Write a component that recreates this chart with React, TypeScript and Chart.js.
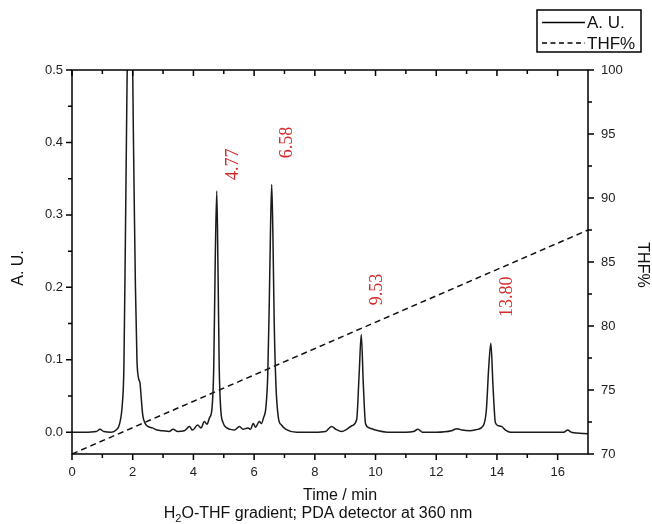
import React, { useEffect, useRef } from "react";
import { Chart, registerables } from "chart.js";

Chart.register(...registerables);

// ---- data ----
const time = [
  0.0, 0.4, 0.8, 0.92, 1.05, 1.3, 1.45, 1.57, 1.66, 1.71, 1.76, 1.81, 1.86, 1.92, 1.97, 2.0, 2.02, 2.05, 2.09, 2.14,
  2.19, 2.24, 2.28, 2.33, 2.4, 2.5, 2.65, 2.8, 3.0, 3.2, 3.33, 3.48, 3.7, 3.87, 3.97, 4.14, 4.25, 4.36, 4.45, 4.53,
  4.61, 4.67, 4.72, 4.77, 4.81, 4.85, 4.9, 4.98, 5.1, 5.22, 5.35, 5.52, 5.63, 5.8, 5.88, 5.97, 6.05, 6.17, 6.24, 6.31,
  6.39, 6.45, 6.5, 6.54, 6.58, 6.62, 6.66, 6.72, 6.8, 6.9, 7.05, 7.4, 8.0, 8.35, 8.55, 8.7, 8.88, 9.05, 9.22, 9.38,
  9.46, 9.53, 9.6, 9.67, 9.8, 10.0, 10.4, 11.0, 11.25, 11.4, 11.55, 12.0, 12.5, 12.68, 12.85, 13.1, 13.35, 13.55, 13.65, 13.73,
  13.8, 13.87, 13.95, 14.05, 14.15, 14.28, 14.45, 15.0, 15.6, 16.2, 16.33, 16.45, 17.0,
];
const absorbance = [
  0.0, 0.0, 0.001, 0.004, 0.001, 0.0, 0.003, 0.012, 0.04, 0.09, 0.27, 0.47, 0.62, 0.66, 0.6, 0.5, 0.42, 0.32, 0.2, 0.1,
  0.075, 0.068, 0.048, 0.024, 0.013, 0.008, 0.006, 0.003, 0.002, 0.001, 0.004, 0.001, 0.002, 0.008, 0.003, 0.01, 0.006, 0.015, 0.011, 0.02,
  0.032, 0.09, 0.24, 0.333, 0.225, 0.09, 0.032, 0.013, 0.006, 0.004, 0.003, 0.008, 0.004, 0.006, 0.004, 0.012, 0.007, 0.015, 0.012, 0.02,
  0.035, 0.08, 0.18, 0.28, 0.342, 0.27, 0.156, 0.064, 0.02, 0.01, 0.004, 0.0, 0.0, 0.001, 0.008, 0.004, 0.001, 0.004, 0.009, 0.018,
  0.08, 0.135, 0.064, 0.012, 0.006, 0.003, 0.0, 0.0, 0.001, 0.004, 0.0, 0.0, 0.002, 0.005, 0.003, 0.002, 0.004, 0.009, 0.03, 0.09,
  0.123, 0.064, 0.013, 0.009, 0.008, 0.003, 0.0, 0.0, 0.0, 0.0, 0.003, 0.0, -0.002,
];
const gradientTime = [0, 17];
const gradientTHF = [70, 87.5];

const peakTimes = [4.77, 6.58, 9.53, 13.8];
const peakLabels = ["4.77", "6.58", "9.53", "13.80"];
const peakLabelLevels = [0.37, 0.4, 0.197, 0.187];

const xTicks = [0, 2, 4, 6, 8, 10, 12, 14, 16];
const auTicks = [0, 0.1, 0.2, 0.3, 0.4, 0.5];
const thfTicks = [70, 75, 80, 85, 90, 95, 100];

const SANS = "'Liberation Sans', Arial, Helvetica, sans-serif";
const SERIF = "'Liberation Serif', 'Times New Roman', serif";

function minorsOf(majors: number[], min: number, max: number): number[] {
  const out: number[] = [];
  const step = majors[1] - majors[0];
  for (let i = -1; i < majors.length; i++) {
    const v = (i >= 0 ? majors[i] : majors[0] - step) + step / 2;
    if (v > min + 1e-9 && v < max - 1e-9) out.push(v);
  }
  return out;
}

const decorPlugin = {
  id: "decor",
  afterDraw(chart: any) {
    const ctx = chart.ctx as CanvasRenderingContext2D;
    const a = chart.chartArea;
    const xs = chart.scales.x;
    const ys = chart.scales.y;
    const y2 = chart.scales.y2;
    ctx.save();
    ctx.strokeStyle = "#000";
    ctx.lineWidth = 1.5;
    ctx.setLineDash([]);
    // frame
    ctx.strokeRect(a.left, a.top, a.right - a.left, a.bottom - a.top);
    const MAJ = 6;
    const MIN = 4;
    ctx.beginPath();
    const xm = minorsOf(xTicks, xs.min, xs.max);
    xTicks.forEach((v) => {
      const p = xs.getPixelForValue(v);
      ctx.moveTo(p, a.bottom); ctx.lineTo(p, a.bottom + MAJ);
      ctx.moveTo(p, a.top); ctx.lineTo(p, a.top + MAJ);
    });
    xm.forEach((v) => {
      const p = xs.getPixelForValue(v);
      ctx.moveTo(p, a.bottom); ctx.lineTo(p, a.bottom + MIN);
      ctx.moveTo(p, a.top); ctx.lineTo(p, a.top + MIN);
    });
    auTicks.forEach((v) => {
      const p = ys.getPixelForValue(v);
      ctx.moveTo(a.left - MAJ, p); ctx.lineTo(a.left, p);
    });
    minorsOf(auTicks, ys.min, ys.max).forEach((v) => {
      const p = ys.getPixelForValue(v);
      ctx.moveTo(a.left - MIN, p); ctx.lineTo(a.left, p);
    });
    thfTicks.forEach((v) => {
      const p = y2.getPixelForValue(v);
      ctx.moveTo(a.right, p); ctx.lineTo(a.right + MAJ, p);
    });
    minorsOf(thfTicks, y2.min, y2.max).forEach((v) => {
      const p = y2.getPixelForValue(v);
      ctx.moveTo(a.right, p); ctx.lineTo(a.right + MIN, p);
    });
    ctx.stroke();

    // axis titles
    ctx.fillStyle = "#111";
    ctx.font = `16px ${SANS}`;
    ctx.textAlign = "center";
    ctx.textBaseline = "middle";
    ctx.save();
    ctx.translate(19, (a.top + a.bottom) / 2 + 6);
    ctx.rotate(-Math.PI / 2);
    ctx.fillText("A. U.", 0, 0);
    ctx.restore();
    ctx.save();
    ctx.translate(642, (a.top + a.bottom) / 2 + 3);
    ctx.rotate(Math.PI / 2);
    ctx.fillText("THF%", 0, 0);
    ctx.restore();

    ctx.textBaseline = "alphabetic";
    ctx.fillText("Time / min", (a.left + a.right) / 2 + 10, a.bottom + 46);

    // subtitle with subscript
    const big = `16px ${SANS}`;
    const small = `11px ${SANS}`;
    const p1 = "H";
    const p2 = "2";
    const p3 = "O-THF gradient; PDA detector at 360 nm";
    ctx.font = big;
    const w1 = ctx.measureText(p1).width;
    const w3 = ctx.measureText(p3).width;
    ctx.font = small;
    const w2 = ctx.measureText(p2).width;
    const total = w1 + w2 + w3;
    let sx = (a.left + a.right) / 2 - 12 - total / 2;
    const sy = a.bottom + 64;
    ctx.textAlign = "left";
    ctx.font = big;
    ctx.fillText(p1, sx, sy);
    sx += w1;
    ctx.font = small;
    ctx.fillText(p2, sx, sy + 4);
    sx += w2;
    ctx.font = big;
    ctx.fillText(p3, sx, sy);

    // peak labels
    ctx.fillStyle = "#d42a2a";
    ctx.font = `18px ${SERIF}`;
    ctx.textAlign = "center";
    ctx.textBaseline = "middle";
    peakTimes.forEach((t, i) => {
      const px = xs.getPixelForValue(t) + 16;
      const py = ys.getPixelForValue(peakLabelLevels[i]);
      ctx.save();
      ctx.translate(px, py);
      ctx.rotate(-Math.PI / 2);
      ctx.fillText(peakLabels[i], 0, 0);
      ctx.restore();
    });

    // legend
    const ds = chart.data.datasets;
    ctx.strokeStyle = "#000";
    ctx.lineWidth = 1.5;
    ctx.strokeRect(537, 10, 104, 42);
    const rows = [22.5, 43];
    ctx.font = `17px ${SANS}`;
    ctx.fillStyle = "#111";
    ctx.textAlign = "left";
    ds.forEach((d: any, i: number) => {
      ctx.beginPath();
      ctx.setLineDash(i === 0 ? [] : [5, 3.5]);
      ctx.moveTo(542, rows[i]);
      ctx.lineTo(585, rows[i]);
      ctx.stroke();
      ctx.setLineDash([]);
      ctx.fillText(d.label, 587, rows[i] + 1);
    });
    ctx.restore();
  },
};

export default function App() {
  const ref = useRef<HTMLCanvasElement | null>(null);
  useEffect(() => {
    if (!ref.current) return;
    const chart = new Chart(ref.current, {
      type: "line",
      data: {
        datasets: [
          {
            label: "A. U.",
            data: time.map((t, i) => ({ x: t, y: absorbance[i] })),
            borderColor: "#1a1a1a",
            borderWidth: 1.5,
            pointRadius: 0,
            cubicInterpolationMode: "monotone",
            yAxisID: "y",
          },
          {
            label: "THF%",
            data: gradientTime.map((t, i) => ({ x: t, y: gradientTHF[i] })),
            borderColor: "#111",
            borderWidth: 1.5,
            borderDash: [6, 4],
            pointRadius: 0,
            yAxisID: "y2",
          },
        ],
      },
      options: {
        responsive: false,
        animation: false,
        devicePixelRatio: 1,
        layout: { padding: { top: 70, left: 0, right: 0, bottom: 0 } },
        plugins: { legend: { display: false }, tooltip: { enabled: false } },
        scales: {
          x: {
            type: "linear",
            min: 0,
            max: 17,
            offset: false,
            grid: { display: false, drawTicks: false },
            border: { display: false },
            afterBuildTicks: (s: any) => {
              s.ticks = xTicks.map((v) => ({ value: v }));
            },
            afterFit: (s: any) => {
              s.height = 70;
            },
            ticks: {
              padding: 11,
              color: "#222",
              font: { family: SANS, size: 13 },
              maxRotation: 0,
              autoSkip: false,
              callback: (v: any) => String(v),
            },
          },
          y: {
            type: "linear",
            position: "left",
            min: -0.03,
            max: 0.5,
            grid: { display: false, drawTicks: false },
            border: { display: false },
            afterBuildTicks: (s: any) => {
              s.ticks = auTicks.map((v) => ({ value: v }));
            },
            afterFit: (s: any) => {
              s.width = 72;
            },
            ticks: {
              padding: 9,
              color: "#222",
              font: { family: SANS, size: 13 },
              callback: (v: any) => Number(v).toFixed(1),
            },
          },
          y2: {
            type: "linear",
            position: "right",
            min: 70,
            max: 100,
            grid: { display: false, drawTicks: false },
            border: { display: false },
            afterBuildTicks: (s: any) => {
              s.ticks = thfTicks.map((v) => ({ value: v }));
            },
            afterFit: (s: any) => {
              s.width = 64;
            },
            ticks: {
              padding: 13,
              color: "#222",
              font: { family: SANS, size: 13 },
              callback: (v: any) => String(v),
            },
          },
        },
      },
      plugins: [decorPlugin],
    } as any);
    return () => chart.destroy();
  }, []);
  return (
    <div style={{ position: "absolute", left: 0, top: 0, width: 652, height: 524, background: "#fff" }}>
      <canvas ref={ref} width={652} height={524} />
    </div>
  );
}
